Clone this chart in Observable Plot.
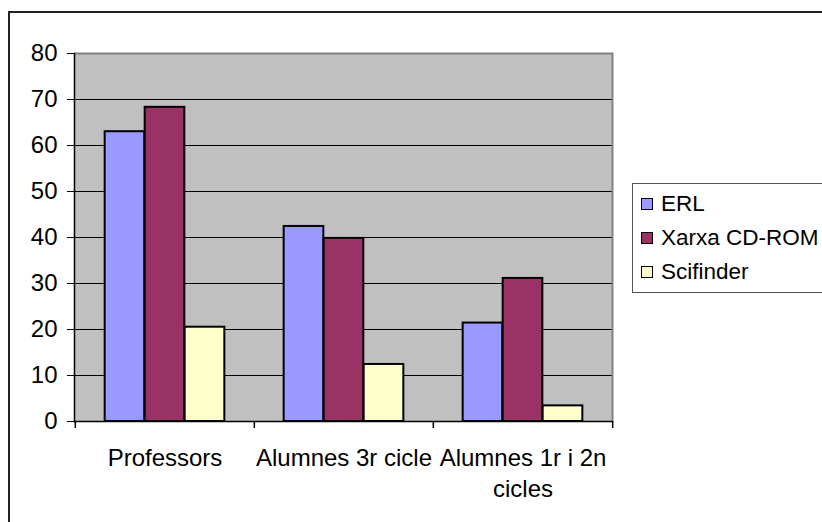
<!DOCTYPE html>
<html>
<head>
<meta charset="utf-8">
<script src="https://cdn.jsdelivr.net/npm/d3@7"></script>
<script src="https://cdn.jsdelivr.net/npm/@observablehq/plot@0.6"></script>
<style>
  html, body { margin: 0; padding: 0; background: #fff; }
  #wrap { position: relative; width: 822px; height: 522px; overflow: hidden; font-family: "Liberation Sans", Arial, sans-serif; }
  #outer { position: absolute; left: 8px; top: 11px; width: 900px; height: 600px; border-top: 2px solid #222; border-left: 2px solid #222; box-sizing: border-box; }
  #chart { position: absolute; left: 0; top: 0; }
  #legend { position: absolute; left: 632px; top: 183px; width: 200px; height: 110px; border: 1.5px solid #555; background: #fff; box-sizing: border-box; }
  .item { position: absolute; left: 8px; height: 22px; display: flex; align-items: center; font-size: 22.5px; color: #000; white-space: nowrap; }
  .sw { width: 10px; height: 10px; border: 1.5px solid #000; margin-right: 8px; }
</style>
</head>
<body>
<div id="wrap">
  <div id="outer"></div>
  <div id="chart"></div>
  <div id="legend"></div>
</div>
<script>
const categories = ["Professors", "Alumnes 3r cicle", "Alumnes 1r i 2n cicles"];
const categoryLabels = ["Professors", "Alumnes 3r cicle", "Alumnes 1r i 2n\ncicles"];
const series = ["ERL", "Xarxa CD-ROM", "Scifinder"];
const colors = ["#9999FF", "#993366", "#FFFFCC"];
const erl = [63.0, 42.4, 21.4];
const xarxa = [68.3, 39.8, 31.1];
const scifinder = [20.5, 12.4, 3.4];
const yTicks = [0, 10, 20, 30, 40, 50, 60, 70, 80];

const values = [erl, xarxa, scifinder];
const data = [];
series.forEach((s, si) => categories.forEach((c, ci) => data.push({series: s, category: c, value: values[si][ci]})));

const W = 822, H = 522, mL = 74, mR = 210, mT = 53, mB = 101;
const bw = (W - mL - mR) / categories.length;
const barW = 40;
const inset = (bw - barW) / 2;
const font = "Liberation Sans, Arial, sans-serif";

const marks = [
  Plot.frame({fill: "#C0C0C0", stroke: null}),
  Plot.ruleY(yTicks.filter(t => t > 0 && t < 80), {stroke: "#000", strokeWidth: 1}),
  Plot.ruleY([80], {stroke: "#808080", strokeWidth: 2}),
  Plot.frame({anchor: "right", stroke: "#808080", strokeWidth: 2}),
];
series.forEach((s, si) => {
  marks.push(Plot.barY(data.filter(d => d.series === s), {
    x: "category", y: "value", fill: colors[si], stroke: "#000", strokeWidth: 2,
    insetLeft: inset, insetRight: inset, dx: (si - 1) * barW
  }));
});
marks.push(
  Plot.ruleY([0], {stroke: "#000", strokeWidth: 1.5}),
  Plot.frame({anchor: "left", stroke: "#000", strokeWidth: 1.5}),
  Plot.axisY({ticks: yTicks, tickSize: 7, tickPadding: 10, fontSize: 24, stroke: "#000", fill: "#000", label: null}),
  Plot.axisX({tickSize: 0, tickPadding: 22, fontSize: 24, lineHeight: 1.3, fill: "#000", label: null,
    tickFormat: d => categoryLabels[categories.indexOf(d)]}),
  Plot.ruleX(categories, {x: d => d, y1: 0, y2: 0, insetTop: 7, dx: -bw / 2, stroke: "#000", strokeWidth: 1.5}),
  Plot.ruleX([categories[categories.length - 1]], {x: d => d, y1: 0, y2: 0, insetTop: 7, dx: bw / 2, stroke: "#000", strokeWidth: 1.5})
);

const chart = Plot.plot({
  width: W, height: H,
  marginLeft: mL, marginRight: mR, marginTop: mT, marginBottom: mB,
  style: {fontFamily: font, fontSize: "24px", color: "#000", background: "transparent"},
  x: {type: "band", domain: categories, padding: 0, axis: null, label: null},
  y: {domain: [0, 80], axis: null, label: null},
  marks
});
document.getElementById("chart").appendChild(chart);

const legend = document.getElementById("legend");
series.forEach((s, i) => {
  const it = document.createElement("div");
  it.className = "item";
  it.style.top = (9 + i * 34) + "px";
  const sw = document.createElement("div");
  sw.className = "sw";
  sw.style.background = colors[i];
  const t = document.createElement("span");
  t.textContent = s;
  it.appendChild(sw); it.appendChild(t);
  legend.appendChild(it);
});
</script>
</body>
</html>
